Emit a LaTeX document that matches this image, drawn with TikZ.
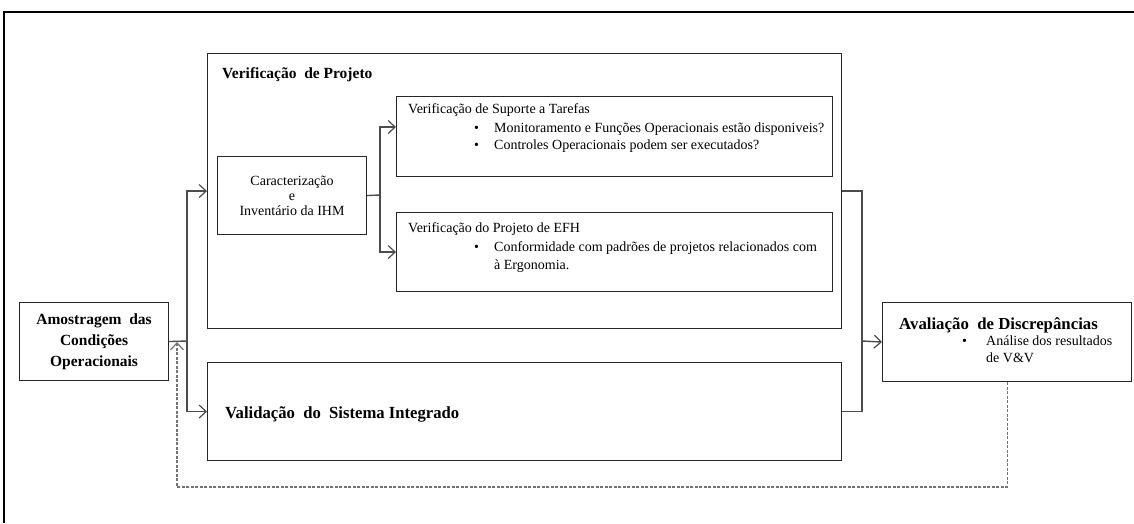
\documentclass[tikz,border=0pt]{standalone}
\usepackage{fontspec}
\setmainfont{Liberation Serif}
\usetikzlibrary{arrows.meta}
\begin{document}
\begin{tikzpicture}[x=1pt,y=-1pt,
  box/.style={draw=black!85,line width=1.1pt,rectangle,inner sep=0pt,anchor=north west},
  conn/.style={draw=black!70,line width=1.4pt},
  arr/.style={conn,-{Straight Barb[length=7pt,width=13pt,line width=1.2pt]}},
  big/.style={font=\fontsize{15.5}{21}\selectfont\bfseries},
  small/.style={font=\fontsize{14}{17}\selectfont},
  txt/.style={inner sep=0pt,anchor=base west}]
\useasboundingbox (0,0) rectangle (1134,523);
% outer frame (top and left edges)
\draw[line width=1.4pt] (4,523) -- (4,12) -- (1134,12);

% boxes
\node[box,minimum width=634pt,minimum height=275pt] (proj) at (207,53) {};
\node[box,minimum width=436pt,minimum height=80pt] (sup) at (396,96) {};
\node[box,minimum width=436pt,minimum height=79pt] (efh) at (396,212) {};
\node[box,minimum width=149pt,minimum height=78pt] (car) at (217,156) {};
\node[box,minimum width=149pt,minimum height=78pt] (amo) at (19,302) {};
\node[box,minimum width=634pt,minimum height=98pt] (val) at (207,362) {};
\node[box,minimum width=249pt,minimum height=79pt] (ava) at (882,302) {};

% texts
\node[txt,big] (tproj) at (222,78) {Verificação\ \ de Projeto};
\node[txt,small] (ts1) at (408,113) {Verificação de Suporte a Tarefas};
\node[txt,small] (ts2) at (474,132) {•};
\node[txt,small] (ts3) at (494,132) {Monitoramento e Funções Operacionais estão disponiveis?};
\node[txt,small] (ts4) at (474,149) {•};
\node[txt,small] (ts5) at (494,149) {Controles Operacionais podem ser executados?};
\node[txt,small] (te1) at (408,232) {Verificação do Projeto de EFH};
\node[txt,small] (te2) at (474,251) {•};
\node[txt,small] (te3) at (494,251) {Conformidade com padrões de projetos relacionados com};
\node[txt,small] (te4) at (494,269) {à Ergonomia.};
\node[small,align=center,inner sep=0pt] (tcar) at (car.center) {Caracterização\\[-2pt] e\\[-2pt] Inventário da IHM};
\node[big,align=center,inner sep=0pt] (tamo) at (amo.center) {Amostragem\ \ das\\ Condições\\ Operacionais};
\node[txt,font=\fontsize{17}{21}\selectfont\bfseries] (tval) at (225,418) {\scalebox{0.98}[1]{Validação\ \ do\ \ Sistema Integrado}};
\node[txt,font=\fontsize{16.8}{21}\selectfont\bfseries] (tava) at (899,329) {Avaliação\ \ de Discrepâncias};
\node[txt,small] (ta1) at (962,345) {•};
\node[txt,small] (ta2) at (986,345) {Análise dos resultados};
\node[txt,small] (ta3) at (986,362) {de V\&V};

% connectors
\coordinate (jl) at (187,341);
\coordinate (jc) at (380,195);
\coordinate (jr) at (862,341);
\coordinate (db) at (177,487);
\coordinate (du) at (177,342);
\draw[conn] (amo.east) -- (jl);
\draw[arr] (jl) |- (proj.west);
\draw[arr] (jl) |- (val.west);
\draw[conn] (car.east) -- (jc);
\draw[arr] (jc) |- (sup.west |- 0,127);
\draw[arr] (jc) |- (efh.west);
\draw[conn] (proj.east) -| (jr);
\draw[conn] (val.east) -| (jr);
\draw[arr] (jr) -- (ava.west);
\draw[arr,draw=black!55,line width=1.1pt,dash pattern=on 3pt off 1.5pt] (ava.south) |- (db) -- (du);
\end{tikzpicture}
\end{document}
